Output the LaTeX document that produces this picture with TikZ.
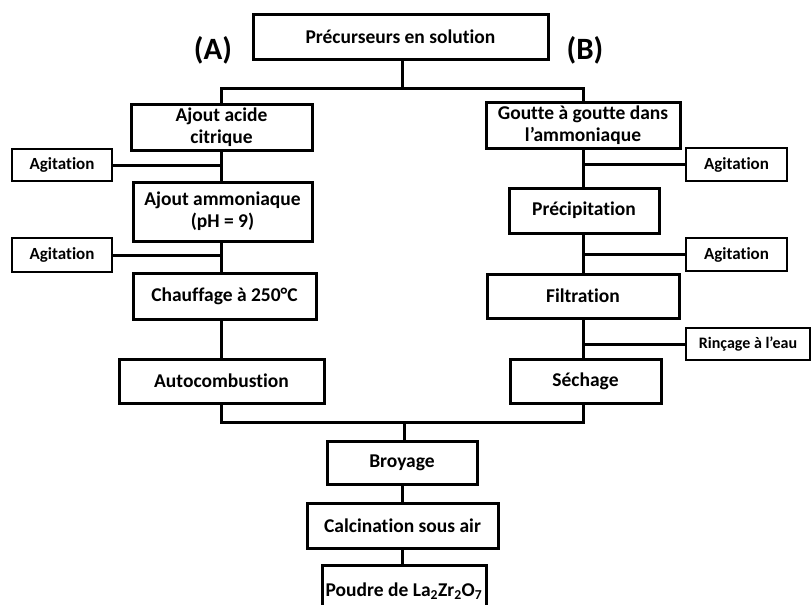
\documentclass[tikz,border=0pt]{standalone}
\usepackage{fontspec}
\setmainfont{Carlito}[Ligatures=NoCommon]
\begin{document}
\begin{tikzpicture}[x=1pt,y=-1pt,
  box/.style={draw, line width=3pt, inner sep=0pt, align=center,
     font=\fontsize{19.5}{22}\selectfont\bfseries},
  sidebox/.style={draw, line width=1.8pt, inner sep=0pt, align=center,
     font=\fontsize{17}{20}\selectfont\bfseries},
  link/.style={line width=3pt},
  lbl/.style={font=\fontsize{31}{34}\selectfont\bfseries, inner sep=0pt}]
\useasboundingbox (0,0) rectangle (812,605);
% main nodes
\node[box, minimum width=295pt, minimum height=45pt] (pre) at (400.5,36.5) {Précurseurs en solution};
\node[lbl] (A) at (213,50) {(A)};
\node[lbl] (B) at (585,50) {(B)};
% branch A
\node[box, minimum width=181pt, minimum height=46pt] (aac) at (221.5,127) {Ajout acide\\citrique};
\node[box, minimum width=179pt, minimum height=59pt] (aam) at (222.5,211.5) {Ajout ammoniaque\\(pH = 9)};
\node[box, minimum width=183pt, minimum height=46pt] (chau) at (224.5,296) {Chauffage à 250°C};
\node[box, minimum width=205pt, minimum height=44pt] (auto) at (221.5,381) {Autocombustion};
\node[sidebox, minimum width=100pt, minimum height=32pt] (ag1) at (62,165) {Agitation};
\node[sidebox, minimum width=100pt, minimum height=34pt] (ag2) at (62,255) {Agitation};
% branch B
\node[box, minimum width=194pt, minimum height=46pt] (gout) at (583,125) {Goutte à goutte dans\\l’ammoniaque};
\node[box, minimum width=150pt, minimum height=45pt] (prec) at (584,210.5) {Précipitation};
\node[box, minimum width=192pt, minimum height=44pt] (filt) at (583,296) {Filtration};
\node[box, minimum width=151pt, minimum height=44pt] (sech) at (585.5,381) {Séchage};
\node[sidebox, minimum width=101pt, minimum height=33pt] (ag3) at (736.5,164.5) {Agitation};
\node[sidebox, minimum width=101pt, minimum height=33pt] (ag4) at (736.5,254.5) {Agitation};
\node[sidebox, minimum width=124pt, minimum height=32pt, font=\fontsize{16}{19}\selectfont\bfseries] (rin) at (748,344) {Rinçage à l’eau};
% common
\node[box, minimum width=150pt, minimum height=43pt] (broy) at (402,462.5) {Broyage};
\node[box, minimum width=191pt, minimum height=45pt] (calc) at (402.5,525.5) {Calcination sous air};
\node[box, minimum width=164pt, minimum height=52pt] (pou) at (404,591) {Poudre de La\textsubscript{2}Zr\textsubscript{2}O\textsubscript{7}};
% junctions
\coordinate (jt) at (402,88);
\coordinate (jb) at (404,422);
% connectors top
\draw[link] (pre.south -| jt) -- (jt);
\draw[link] (aac.north) |- (jt) -| (gout.north);
% branch A stem
\draw[link] (aac.south) -- (aac.south |- aam.north);
\draw[link] (aac.south |- aam.south) -- (aac.south |- chau.north);
\draw[link] (aac.south |- chau.south) -- (aac.south |- auto.north);
\draw[link] (ag1.east) -- (ag1.east -| aac.south);
\draw[link] (ag2.east) -- (ag2.east -| aac.south);
% branch B stem
\draw[link] (gout.south) -- (gout.south |- prec.north);
\draw[link] (gout.south |- prec.south) -- (gout.south |- filt.north);
\draw[link] (gout.south |- filt.south) -- (gout.south |- sech.north);
\draw[link] (ag3.west) -- (ag3.west -| gout.south);
\draw[link] (ag4.west) -- (ag4.west -| gout.south);
\draw[link] (rin.west) -- (rin.west -| gout.south);
% bottom
\draw[link] (auto.south) |- (jb) -| (gout.south |- sech.south);
\draw[link] (jb) -- (broy.north -| jb);
\draw[link] (broy.south) -- (calc.north -| broy.south);
\draw[link] (calc.south -| broy.south) -- (pou.north -| broy.south);
\end{tikzpicture}
\end{document}
